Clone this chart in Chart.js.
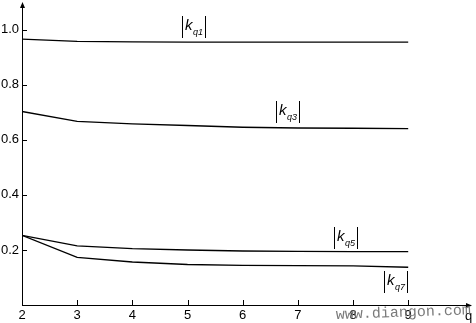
<!DOCTYPE html>
<html>
<head>
<meta charset="utf-8">
<script src="https://cdn.jsdelivr.net/npm/chart.js@4/dist/chart.umd.min.js"></script>
<style>
  html, body { margin: 0; padding: 0; background: #fff; }
  #wrap { width: 476px; height: 323px; }
</style>
</head>
<body>
<div id="wrap"><canvas id="chart"></canvas></div>
<script>
// data
const qValues = [2, 3, 4, 5, 6, 7, 8, 9];
const kq1 = [0.966, 0.958, 0.956, 0.955, 0.955, 0.955, 0.955, 0.955];
const kq3 = [0.703, 0.667, 0.658, 0.652, 0.646, 0.643, 0.642, 0.641];
const kq5 = [0.253, 0.215, 0.205, 0.200, 0.196, 0.195, 0.194, 0.194];
const kq7 = [0.253, 0.173, 0.156, 0.147, 0.144, 0.143, 0.142, 0.137];
const xTicks = [2, 3, 4, 5, 6, 7, 8, 9];
const yTicks = [0.2, 0.4, 0.6, 0.8, 1.0];

// curve labels: [sub, q position, value position]
const curveLabels = [
    ["q1", 4.9, 1.011],
    ["q3", 6.61, 0.70],
    ["q5", 7.66, 0.245],
    ["q7", 8.565, 0.083]
];

function toPoints(ys) {
    return qValues.map((q, i) => ({ x: q, y: ys[i] }));
}

function lineSet(ys) {
    return {
        data: toPoints(ys),
        borderColor: "#000",
        borderWidth: 1.4,
        pointRadius: 0,
        tension: 0,
        fill: false
    };
}

/* =======================================================
   AXIS DECORATIONS (inward ticks, arrows, labels)
   ======================================================= */
const decorations = {
    id: "decorations",
    afterDraw(chart) {
        const ctx = chart.ctx;
        const xs = chart.scales.x;
        const ys = chart.scales.y;
        const x0 = xs.getPixelForValue(2);
        const y0 = ys.getPixelForValue(0);
        ctx.save();
        ctx.strokeStyle = "#000";
        ctx.fillStyle = "#000";
        ctx.lineWidth = 1;

        // axes
        ctx.beginPath();
        ctx.moveTo(x0 + 0.5, y0);
        ctx.lineTo(x0 + 0.5, 4);
        ctx.moveTo(x0, y0 + 0.5);
        ctx.lineTo(470, y0 + 0.5);
        ctx.stroke();

        // arrows
        ctx.beginPath();
        ctx.moveTo(x0 + 0.5, 2);
        ctx.lineTo(x0 - 2, 8);
        ctx.lineTo(x0 + 3, 8);
        ctx.closePath();
        ctx.fill();
        ctx.beginPath();
        ctx.moveTo(472, y0 + 0.5);
        ctx.lineTo(466, y0 - 2);
        ctx.lineTo(466, y0 + 3);
        ctx.closePath();
        ctx.fill();

        // inward ticks
        ctx.beginPath();
        yTicks.forEach(v => {
            const py = Math.round(ys.getPixelForValue(v)) + 0.5;
            ctx.moveTo(x0, py);
            ctx.lineTo(x0 + 5, py);
        });
        xTicks.slice(1).forEach(v => {
            const px = Math.round(xs.getPixelForValue(v)) + 0.5;
            ctx.moveTo(px, y0);
            ctx.lineTo(px, y0 - 5);
        });
        ctx.stroke();

        // curve labels |k_q|
        curveLabels.forEach(([sub, q, v]) => {
            const px = Math.round(xs.getPixelForValue(q));
            const py = Math.round(ys.getPixelForValue(v));
            ctx.beginPath();
            ctx.moveTo(px + 0.5, py - 11);
            ctx.lineTo(px + 0.5, py + 11);
            ctx.moveTo(px + 23.5, py - 11);
            ctx.lineTo(px + 23.5, py + 11);
            ctx.stroke();
            ctx.textBaseline = "alphabetic";
            ctx.textAlign = "left";
            ctx.font = "italic 15px 'Liberation Sans'";
            ctx.fillText("k", px + 3, py + 3);
            ctx.font = "italic 9px 'Liberation Sans'";
            ctx.fillText(sub, px + 11, py + 8);
        });

        // axis name
        ctx.font = "13px 'Liberation Sans'";
        ctx.textAlign = "left";
        ctx.fillText("q", 465, 320);

        // watermark
        ctx.save();
        ctx.translate(336, 319);
        ctx.rotate(-0.035);
        ctx.fillStyle = "#7a7a7a";
        ctx.font = "15px 'Liberation Mono'";
        ctx.fillText("www.diangon.com", 0, 0);
        ctx.restore();

        ctx.restore();
    }
};

new Chart(document.getElementById("chart"), {
    type: "line",
    data: {
        datasets: [lineSet(kq1), lineSet(kq3), lineSet(kq5), lineSet(kq7)]
    },
    options: {
        responsive: true,
        maintainAspectRatio: false,
        animation: false,
        events: [],
        layout: { padding: { top: 5, right: 6, left: 0, bottom: 0 } },
        plugins: { legend: { display: false }, tooltip: { enabled: false } },
        scales: {
            x: {
                type: "linear",
                min: 2,
                max: 10.12,
                afterBuildTicks: s => { s.ticks = xTicks.map(v => ({ value: v })); },
                afterFit: s => { s.height = 18; s.paddingLeft = 0; s.paddingRight = 0; },
                grid: { display: false, drawTicks: false },
                border: { display: false },
                ticks: {
                    color: "#000",
                    padding: 3,
                    maxRotation: 0,
                    autoSkip: false,
                    font: { family: "Liberation Sans", size: 13 },
                    callback: v => String(v)
                }
            },
            y: {
                type: "linear",
                min: 0,
                max: 1.09,
                afterBuildTicks: s => { s.ticks = yTicks.map(v => ({ value: v })); },
                afterFit: s => { s.width = 22; s.paddingTop = 0; s.paddingBottom = 0; },
                grid: { display: false, drawTicks: false },
                border: { display: false },
                ticks: {
                    color: "#000",
                    padding: 3,
                    autoSkip: false,
                    font: { family: "Liberation Sans", size: 13 },
                    callback: v => v.toFixed(1)
                }
            }
        }
    },
    plugins: [decorations]
});
</script>
</body>
</html>
